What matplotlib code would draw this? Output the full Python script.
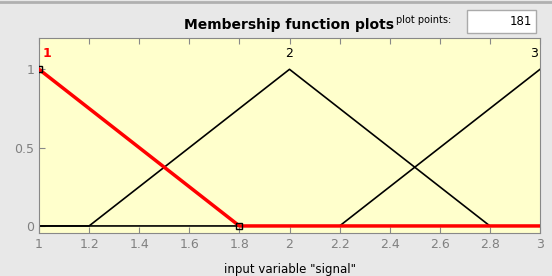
import numpy as np
import matplotlib.pyplot as plt
from matplotlib.patches import Rectangle

x_range = [1, 3]
n_points = 181
mf_params = [[0.2, 1.0, 1.8], [1.2, 2.0, 2.8], [2.2, 3.0, 3.8]]
mf_names = ["1", "2", "3"]
selected = 0
xticks = [1, 1.2, 1.4, 1.6, 1.8, 2, 2.2, 2.4, 2.6, 2.8, 3]
xticklabels = ["1", "1.2", "1.4", "1.6", "1.8", "2", "2.2", "2.4", "2.6", "2.8", "3"]
yticks = [0, 0.5, 1]
yticklabels = ["0", "0.5", "1"]


def trimf(x, a, b, c):
    return np.maximum(np.minimum((x - a) / (b - a), (c - x) / (c - b)), 0)


x = np.linspace(x_range[0], x_range[1], n_points)

fig = plt.figure(figsize=(5.52, 2.76), dpi=100, facecolor="#e8e8e8")
ax = fig.add_axes([39 / 552, 1 - 233 / 276, 501 / 552, 195 / 276])
ax.set_facecolor("#ffffcc")

for i, p in enumerate(mf_params):
    if i == selected:
        continue
    ax.plot(x, trimf(x, *p), color="black", lw=1.2, zorder=2)
sel = mf_params[selected]
ax.plot(x, trimf(x, *sel), color="red", lw=2.5, zorder=3)
ax.plot([sel[1], sel[2]], [1, 0], "s", ms=4, mfc="none", mec="black", mew=1, zorder=4)

for i, p in enumerate(mf_params):
    c = "red" if i == selected else "black"
    ha = "left" if i == 0 else ("right" if i == len(mf_params) - 1 else "center")
    xt = p[1] + (0.015 if i == 0 else (-0.01 if ha == "right" else 0))
    ax.text(xt, 1.06, mf_names[i], color=c, ha=ha, va="bottom", fontsize=9,
            fontweight="bold" if i == selected else "normal")

ax.set_xlim(1, 3)
ax.set_ylim(-0.045, 1.2)
ax.set_xticks(xticks)
ax.set_xticklabels(xticklabels)
ax.set_yticks(yticks)
ax.set_yticklabels(yticklabels)
ax.tick_params(direction="in", top=True, right=False, colors="#888888",
               labelcolor="#808080", labelsize=9, length=4)
for s in ax.spines.values():
    s.set_color("#888888")
ax.set_xlabel('input variable "signal"', fontsize=8.5, labelpad=9)

fig.text(289 / 552, 1 - 25 / 276, "Membership function plots", ha="center", va="center",
         fontsize=10, fontweight="bold")
fig.text(424 / 552, 1 - 20 / 276, "plot points:", ha="center", va="center", fontsize=7)
fig.patches.append(Rectangle((467 / 552, 1 - 33 / 276), 69 / 552, 23 / 276,
                             transform=fig.transFigure, facecolor="white",
                             edgecolor="#aaaaaa", lw=1))
fig.text(532 / 552, 1 - 21.5 / 276, str(n_points), ha="right", va="center", fontsize=8.5)
fig.add_artist(plt.Line2D([0, 1], [1 - 2 / 276, 1 - 2 / 276], color="#b0b0b0", lw=2,
                          transform=fig.transFigure))

fig.savefig("out.png", dpi=100, facecolor=fig.get_facecolor())
